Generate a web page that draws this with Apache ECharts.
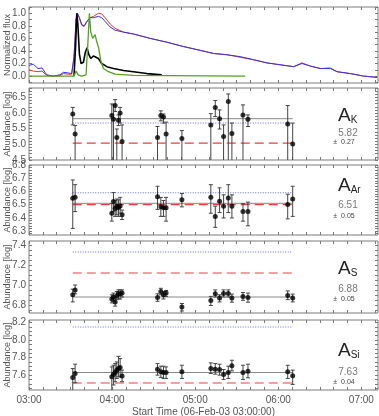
<!DOCTYPE html>
<html>
<head>
<meta charset="utf-8">
<script src="https://cdn.jsdelivr.net/npm/echarts@6/dist/echarts.min.js"></script>
<style>
html, body { margin: 0; padding: 0; background: #fff; }
#chart { width: 379px; height: 416px; }
</style>
</head>
<body>
<div id="chart"></div>
<script>
// times are minutes after 03:00 (06-Feb-03)
const fluxTime = [0, 3.1, 6.5, 9.4, 12.8, 17.6, 22.4, 24.8, 28.4, 30.8, 32.5, 34.0, 34.9, 36.4, 38.1, 39.8, 41.7, 44.1, 46.5, 50.1, 52.5, 54.9, 58.6, 62.2, 68.2, 75.4, 87.5, 99.5, 111.6, 123.6, 133.2, 142.9, 152.5, 162.2, 171.8, 181.4, 191.1, 197.1, 203.1, 210.4, 217.6, 222.4, 232.0, 241.7, 251.3];
const fluxRed = [0.10, 0.08, 0.07, 0.08, 0.01, 0.00, 0.01, 0.04, 0.03, 0.03, 0.30, 0.90, 1.00, 0.92, 0.81, 0.79, 0.86, 0.93, 0.95, 1.00, 0.99, 0.93, 0.83, 0.76, 0.70, 0.67, 0.60, 0.54, 0.47, 0.41, 0.36, 0.34, 0.30, 0.26, 0.21, 0.18, 0.15, 0.21, 0.16, 0.12, 0.13, 0.07, 0.04, 0.00, -0.02];
const fluxBlue = [0.17, 0.19, 0.12, 0.13, 0.02, 0.00, 0.02, 0.06, 0.05, 0.04, 0.30, 0.90, 1.00, 0.93, 0.82, 0.80, 0.87, 0.93, 0.93, 0.95, 0.93, 0.87, 0.78, 0.73, 0.70, 0.67, 0.60, 0.54, 0.47, 0.41, 0.36, 0.34, 0.31, 0.26, 0.21, 0.18, 0.15, 0.20, 0.16, 0.12, 0.12, 0.07, 0.04, 0.00, -0.02];
const blackTime = [32.5, 33.7, 34.5, 35.2, 36.4, 37.6, 39.3, 40.7, 41.9, 43.1, 44.6, 46.5, 48.4, 50.1, 52.5, 56.2, 61.0, 68.2, 75.4, 85.1, 95.9];
const blackFlux = [0.00, 0.50, 1.00, 0.85, 0.35, 0.20, 0.22, 0.38, 0.45, 0.35, 0.28, 0.32, 0.30, 0.28, 0.20, 0.15, 0.12, 0.09, 0.07, 0.04, 0.02];
const greenTime = [0, 32.5, 34.0, 35.4, 38.1, 41.2, 42.7, 43.6, 44.6, 46.0, 47.7, 48.9, 50.3, 51.8, 53.7, 57.4, 62.2, 75.4, 156.1];
const greenFlux = [0.00, 0.00, 0.08, 0.02, 0.00, 0.02, 0.60, 1.00, 0.70, 0.60, 0.66, 0.55, 0.45, 0.25, 0.12, 0.07, 0.03, 0.01, 0.00];

const obsTime = [31.6, 33.3, 59.8, 61.0, 62.2, 63.4, 64.6, 65.8, 67.2, 92.8, 95.2, 97.1, 99.0, 110.4, 131.3, 134.5, 137.6, 140.5, 143.9, 146.5, 154.5, 158.1, 186.8, 190.4];

const kVal = [5.97, 5.33, 5.92, 5.80, 6.24, 5.22, 5.77, 6.00, 5.09, 5.22, 5.92, 5.87, 5.33, 5.19, 5.62, 6.18, 5.82, 5.25, 6.37, 5.35, 5.94, 5.80, 5.65, 5.01];
const kHi = [6.18, 5.60, 6.29, 6.26, 6.43, 5.49, 5.94, 6.18, 5.62, 5.57, 6.07, 5.97, 5.71, 5.44, 5.98, 6.40, 6.10, 5.62, 6.61, 5.68, 6.26, 5.94, 6.24, 5.68];
const kLo = [5.62, 4.4, 4.4, 4.4, 6.05, 4.4, 5.60, 5.68, 4.4, 4.4, 5.75, 5.68, 4.4, 4.4, 4.4, 5.89, 5.49, 4.4, 4.4, 4.4, 4.4, 5.57, 4.4, 4.4];

const arVal = [6.548, 6.555, 6.435, 6.524, 6.470, 6.488, 6.478, 6.490, 6.423, 6.560, 6.483, 6.476, 6.476, 6.536, 6.555, 6.410, 6.526, 6.488, 6.550, 6.488, 6.447, 6.447, 6.500, 6.543];
const arHi = [6.687, 6.651, 6.507, 6.591, 6.531, 6.543, 6.536, 6.555, 6.459, 6.639, 6.555, 6.531, 6.555, 6.584, 6.651, 6.488, 6.627, 6.574, 6.651, 6.574, 6.507, 6.519, 6.579, 6.639];
const arLo = [6.320, 6.447, 6.375, 6.447, 6.411, 6.423, 6.411, 6.435, 6.387, 6.464, 6.411, 6.411, 6.375, 6.483, 6.435, 6.328, 6.440, 6.399, 6.440, 6.399, 6.375, 6.340, 6.392, 6.411];

const sVal = [6.902, 6.951, 6.860, 6.880, 6.831, 6.893, 6.912, 6.909, 6.919, 6.876, 6.935, 6.902, 6.919, 6.779, 6.844, 6.912, 6.870, 6.915, 6.915, 6.870, 6.886, 6.876, 6.896, 6.870];
const sHi = [6.958, 7.000, 6.902, 6.919, 6.870, 6.935, 6.951, 6.951, 6.951, 6.912, 6.967, 6.935, 6.945, 6.815, 6.886, 6.951, 6.902, 6.951, 6.951, 6.909, 6.925, 6.919, 6.941, 6.909];
const sLo = [6.831, 6.912, 6.821, 6.837, 6.789, 6.854, 6.860, 6.860, 6.880, 6.837, 6.902, 6.860, 6.886, 6.740, 6.795, 6.880, 6.831, 6.880, 6.880, 6.828, 6.847, 6.828, 6.854, 6.831];

const siVal = [7.574, 7.619, 7.581, 7.608, 7.630, 7.657, 7.675, 7.687, 7.589, 7.668, 7.638, 7.630, 7.630, 7.638, 7.675, 7.668, 7.664, 7.608, 7.630, 7.706, 7.630, 7.645, 7.638, 7.592];
const siHi = [7.675, 7.725, 7.694, 7.713, 7.732, 7.751, 7.815, 7.789, 7.657, 7.732, 7.702, 7.702, 7.694, 7.713, 7.740, 7.732, 7.725, 7.664, 7.702, 7.770, 7.713, 7.725, 7.713, 7.657];
const siLo = [7.40, 7.513, 7.40, 7.487, 7.525, 7.562, 7.581, 7.581, 7.525, 7.600, 7.574, 7.562, 7.562, 7.562, 7.619, 7.611, 7.600, 7.551, 7.562, 7.649, 7.551, 7.570, 7.562, 7.494];

// mean (solid), blue dotted and red dashed reference levels
const elements = ['K', 'Ar', 'S', 'Si'];
const meanLevel = [5.82, 6.51, 6.88, 7.63];
const meanErr = ['0.27', '0.05', '0.05', '0.04'];
const blueLevel = [5.68, 6.59, 7.33, 8.15];
const redLevel = [5.04, 6.50, 7.12, 7.51];

const xLabelTicks = [0, 60, 120, 180, 240];

const FONT = 'Liberation Sans, Arial, sans-serif';
const FRAME = '#7a7a7a';
const TXT = '#555';

const panels = [
    { top: 7, height: 76, min: -0.11, max: 1.1, labels: [0, 0.2, 0.4, 0.6, 0.8, 1.0], step: 0.1, name: 'Normalized flux' },
    { top: 88, height: 72, min: 4.5, max: 6.8, labels: [4.5, 5.0, 5.5, 6.0, 6.5], step: 0.1, name: 'Abundance [log]' },
    { top: 165, height: 70, min: 6.27, max: 6.8, labels: [6.3, 6.4, 6.5, 6.6, 6.7, 6.8], step: 0.02, name: 'Abundance [log]' },
    { top: 241, height: 72, min: 6.72, max: 7.44, labels: [6.8, 7.0, 7.2, 7.4], step: 0.05, name: 'Abundance [log]' },
    { top: 320, height: 70, min: 7.43, max: 8.23, labels: [7.6, 7.8, 8.0, 8.2], step: 0.05, name: 'Abundance [log]' }
];

function stepValues(min, max, step) {
    const out = [];
    const start = Math.ceil(min / step - 1e-6);
    for (let i = start; i * step <= max + 1e-9; i++) out.push(+(i * step).toFixed(4));
    return out;
}

function hhmm(v) {
    const h = 3 + Math.floor(v / 60);
    const m = Math.round(v % 60);
    return (h < 10 ? '0' : '') + h + ':' + (m < 10 ? '0' : '') + m;
}

const minorX = stepValues(0, 250, 10);

const grids = [];
const xAxes = [];
const yAxes = [];
panels.forEach(function (p, i) {
    grids.push({
        left: 29, right: 1, top: p.top, height: p.height,
        outerBoundsMode: 'none', containLabel: false,
        show: true, borderColor: FRAME, borderWidth: 1, backgroundColor: 'transparent'
    });
    const last = i === panels.length - 1;
    ['bottom', 'top'].forEach(function (pos) {
        xAxes.push({
            type: 'value', gridIndex: i, position: pos, min: 0, max: 252,
            axisLine: { show: false, onZero: false },
            splitLine: { show: false },
            axisTick: { show: true, inside: true, length: 3, customValues: minorX, lineStyle: { color: FRAME } },
            axisLabel: {
                show: last && pos === 'bottom', customValues: xLabelTicks, formatter: hhmm,
                color: TXT, fontSize: 10, fontFamily: FONT, margin: 5
            },
            name: last && pos === 'bottom' ? 'Start Time (06-Feb-03 03:00:00)' : '',
            nameLocation: 'middle', nameGap: 17,
            nameTextStyle: { color: TXT, fontSize: 10, fontFamily: FONT }
        });
    });
    ['left', 'right'].forEach(function (pos) {
        yAxes.push({
            type: 'value', gridIndex: i, position: pos, min: p.min, max: p.max,
            axisLine: { show: false, onZero: false },
            splitLine: { show: false },
            axisTick: { show: true, inside: true, length: 3, customValues: stepValues(p.min, p.max, p.step), lineStyle: { color: FRAME } },
            axisLabel: {
                show: pos === 'left', customValues: p.labels,
                formatter: function (v) { return v.toFixed(1); },
                color: TXT, fontSize: 10, fontFamily: FONT, margin: 3
            },
            name: pos === 'left' ? p.name : '',
            nameLocation: 'middle', nameGap: 17, nameRotate: 90, nameMoveOverlap: false,
            nameTextStyle: { color: TXT, fontSize: 9, fontFamily: FONT }
        });
    });
});

function pairs(xs, ys) {
    return xs.map(function (x, k) { return [x, ys[k]]; });
}

function renderErr(params, api) {
    const cs = params.coordSys;
    const hi = api.coord([api.value(0), api.value(2)]);
    const lo = api.coord([api.value(0), api.value(1)]);
    const yTop = cs.y, yBot = cs.y + cs.height;
    const x = hi[0];
    const y1 = Math.max(hi[1], yTop);
    const y2 = Math.min(lo[1], yBot);
    const st = { stroke: '#444', lineWidth: 1 };
    const kids = [{ type: 'line', shape: { x1: x, y1: y1, x2: x, y2: y2 }, style: st }];
    if (hi[1] >= yTop) kids.push({ type: 'line', shape: { x1: x - 2, y1: hi[1], x2: x + 2, y2: hi[1] }, style: st });
    if (lo[1] <= yBot) kids.push({ type: 'line', shape: { x1: x - 2, y1: lo[1], x2: x + 2, y2: lo[1] }, style: st });
    return { type: 'group', children: kids };
}

const series = [
    { type: 'line', xAxisIndex: 0, yAxisIndex: 0, data: pairs(fluxTime, fluxRed), symbol: 'none', lineStyle: { color: '#e8342c', width: 1 }, z: 2 },
    { type: 'line', xAxisIndex: 0, yAxisIndex: 0, data: pairs(fluxTime, fluxBlue), symbol: 'none', lineStyle: { color: '#3434e0', width: 1 }, z: 3 },
    { type: 'line', xAxisIndex: 0, yAxisIndex: 0, data: pairs(blackTime, blackFlux), symbol: 'none', lineStyle: { color: '#000', width: 1.6 }, z: 4 },
    { type: 'line', xAxisIndex: 0, yAxisIndex: 0, data: pairs(greenTime, greenFlux), symbol: 'none', lineStyle: { color: '#54a024', width: 1.3 }, z: 5 }
];

const abund = [
    [kVal, kLo, kHi],
    [arVal, arLo, arHi],
    [sVal, sLo, sHi],
    [siVal, siLo, siHi]
];
const t0 = obsTime[0], t1 = obsTime[obsTime.length - 1];
abund.forEach(function (a, j) {
    const gi = j + 1;
    const xi = gi * 2, yi = gi * 2;
    series.push({ type: 'line', xAxisIndex: xi, yAxisIndex: yi, data: [[t0, blueLevel[j]], [t1, blueLevel[j]]], symbol: 'none', lineStyle: { color: '#6a6ae0', width: 1, type: [1, 1.5] }, z: 1 });
    series.push({ type: 'line', xAxisIndex: xi, yAxisIndex: yi, data: [[t0, meanLevel[j]], [t1, meanLevel[j]]], symbol: 'none', lineStyle: { color: '#888', width: 1 }, z: 2 });
    series.push({ type: 'line', xAxisIndex: xi, yAxisIndex: yi, data: [[t0, redLevel[j]], [t1, redLevel[j]]], symbol: 'none', lineStyle: { color: '#e84040', width: 1.2, type: [9, 5] }, z: 3 });
    series.push({
        type: 'custom', xAxisIndex: xi, yAxisIndex: yi, renderItem: renderErr,
        data: obsTime.map(function (t, k) { return [t, a[1][k], a[2][k]]; }), z: 4
    });
    series.push({
        type: 'scatter', xAxisIndex: xi, yAxisIndex: yi, data: pairs(obsTime, a[0]),
        symbol: 'circle', symbolSize: 5, itemStyle: { color: '#000' }, z: 5
    });
});

// element labels at the right of each abundance panel
const labelY = [[117, 133, 142], [187, 205, 216], [270, 289, 299], [352, 372, 382]];
const graphics = [];
elements.forEach(function (el, j) {
    graphics.push({
        type: 'text', left: 338, top: labelY[j][0] - 11,
        style: {
            text: '{a|A}{s|' + el + '}',
            rich: {
                a: { fontSize: 19, fontFamily: FONT, fill: '#222' },
                s: { fontSize: 10, fontFamily: FONT, fill: '#222', padding: [10, 0, 0, 0] }
            }
        }
    });
    graphics.push({
        type: 'text', x: 348, y: labelY[j][1],
        style: { text: meanLevel[j].toFixed(2), fontSize: 10, fontFamily: FONT, fill: '#777', align: 'center', verticalAlign: 'middle' }
    });
    graphics.push({
        type: 'text', x: 344, y: labelY[j][2],
        style: { text: '±  ' + meanErr[j], fontSize: 7, fontFamily: FONT, fill: '#444', align: 'center', verticalAlign: 'middle' }
    });
});

const chart = echarts.init(document.getElementById('chart'), null, { renderer: 'canvas' });
chart.setOption({
    backgroundColor: '#fff',
    animation: false,
    grid: grids,
    xAxis: xAxes,
    yAxis: yAxes,
    series: series,
    graphic: graphics
});
</script>
</body>
</html>
